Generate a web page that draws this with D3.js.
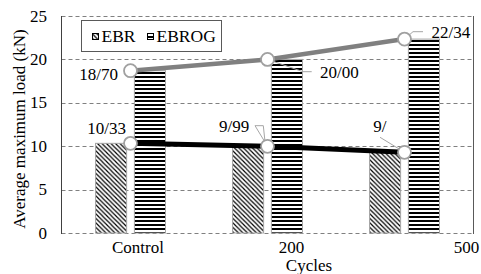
<!DOCTYPE html>
<html>
<head>
<meta charset="utf-8">
<script src="https://cdn.jsdelivr.net/npm/d3@7"></script>
</head>
<body style="margin:0">
<script>
const width = 481;
const height = 274;

// data
const categories = ["Control", "200", "500"];
const series = ["EBR", "EBROG"];
const ebrValues = [10.33, 9.99, 9.3];
const ebrogValues = [18.70, 20.00, 22.34];
const ebrLabels = ["10/33", "9/99", "9/"];
const ebrogLabels = ["18/70", "20/00", "22/34"];
const yTicks = [0, 5, 10, 15, 20, 25];

// layout
const plot = { left: 62, right: 473, top: 16, bottom: 233 };
const fontSize = "17px";
const labelShift = [7.5, 24, 62]; // excel puts category labels off centre
const grey = "#808080";

const svg = d3.select("body")
  .append("svg")
  .attr("width", width)
  .attr("height", height);

// every text goes through this so the serif face sticks
function addText(sel) {
  return sel.append("text")
    .attr("font-family", "Liberation Serif")
    .style("font-family", "Liberation Serif")
    .style("font-size", fontSize);
}

const defs = svg.append("defs");

// wide downward diagonal for EBR
const diag = defs.append("pattern")
  .attr("id", "diag")
  .attr("patternUnits", "userSpaceOnUse")
  .attr("width", 4.5)
  .attr("height", 4.5);
diag.append("rect").attr("width", 4.5).attr("height", 4.5).attr("fill", "white");
diag.append("path")
  .attr("d", "M-1,-1 L5.5,5.5 M-1,3.5 L1,5.5 M3.5,-1 L5.5,1")
  .attr("stroke", "black")
  .attr("stroke-width", 1.2);

// dark horizontal for EBROG
const horiz = defs.append("pattern")
  .attr("id", "horiz")
  .attr("patternUnits", "userSpaceOnUse")
  .attr("width", 4)
  .attr("height", 4);
horiz.append("rect").attr("width", 4).attr("height", 4).attr("fill", "white");
horiz.append("rect").attr("width", 4).attr("height", 2).attr("fill", "black");

const fills = { EBR: "url(#diag)", EBROG: "url(#horiz)" };

const x0 = d3.scaleBand()
  .domain(categories)
  .range([plot.left, plot.right]);

const x1 = d3.scaleBand()
  .domain(series)
  .range([33.5, x0.bandwidth() - 33.5])
  .paddingInner(0.2);

const y = d3.scaleLinear()
  .domain([0, 25])
  .range([plot.bottom, plot.top]);

// gridlines
svg.append("g")
  .selectAll("line")
  .data(yTicks)
  .enter()
  .append("line")
  .attr("x1", plot.left - 0.5)
  .attr("x2", plot.right)
  .attr("y1", (d) => Math.round(y(d)) + 0.5)
  .attr("y2", (d) => Math.round(y(d)) + 0.5)
  .attr("stroke", grey)
  .attr("stroke-width", 1)
  .attr("stroke-dasharray", "4,3");

// side borders
svg.append("line")
  .attr("x1", plot.left - 0.5).attr("x2", plot.left - 0.5)
  .attr("y1", plot.top).attr("y2", plot.bottom + 1)
  .attr("stroke", "#404040");
svg.append("line")
  .attr("x1", plot.right + 0.5).attr("x2", plot.right + 0.5)
  .attr("y1", plot.top).attr("y2", plot.bottom + 1)
  .attr("stroke", "#595959");

// tick labels
const tickG = svg.append("g");
yTicks.forEach((t) => {
  addText(tickG)
    .attr("x", 47)
    .attr("y", y(t))
    .attr("dy", "0.33em")
    .attr("text-anchor", "end")
    .text(t);
});

// bars
const rows = categories.map((c, i) => ({ cat: c, EBR: ebrValues[i], EBROG: ebrogValues[i] }));

const groups = svg.append("g")
  .selectAll("g")
  .data(rows)
  .enter()
  .append("g")
  .attr("transform", (d) => "translate(" + x0(d.cat) + ",0)");

groups.selectAll("rect")
  .data((d) => series.map((s) => ({ key: s, value: d[s] })))
  .enter()
  .append("rect")
  .attr("x", (d) => x1(d.key))
  .attr("y", (d) => y(d.value))
  .attr("width", x1.bandwidth())
  .attr("height", (d) => y(0) - y(d.value))
  .attr("fill", (d) => fills[d.key])
  .attr("stroke", "#a6a6a6")
  .attr("stroke-width", 1);

// category labels
const catG = svg.append("g");
categories.forEach((c, i) => {
  addText(catG)
    .attr("x", x0(c) + x0.bandwidth() / 2 + labelShift[i])
    .attr("y", 253)
    .attr("text-anchor", "middle")
    .text(c);
});

addText(svg)
  .attr("x", 309)
  .attr("y", 271)
  .attr("text-anchor", "middle")
  .text("Cycles");

addText(svg)
  .attr("transform", "translate(19,129) rotate(-90)")
  .attr("text-anchor", "middle")
  .attr("dy", "0.35em")
  .text("Average maximum load (kN)");

// lines with markers
const cx = (i) => x0(categories[i]) + x0.bandwidth() / 2;

const lineGen = d3.line()
  .x((d, i) => cx(i))
  .y((d) => y(d));

// label offsets from each marker, plus leader points
const ebrogNotes = [
  { dx: -12.5, dy: 9.5, anchor: "end", leader: [] },
  { dx: 52.5, dy: 18.6, anchor: "start", leader: [[35.5, 12.3], [44.2, 12.3]] },
  { dx: 27, dy: -0.8, anchor: "start", leader: [[8.5, -7.4], [18.5, -7.4]] },
];
const ebrNotes = [
  { dx: -4.5, dy: -9.3, anchor: "end", leader: [] },
  { dx: -18.2, dy: -14.6, anchor: "end", leader: [[-12.5, -20.6], [-4.2, -20.6], [-2.5, -4.6]] },
  { dx: -31.2, dy: -20.6, anchor: "start", leader: [[-24.5, -15]] },
];

function drawSeries(values, labels, notes, color, lw) {
  const g = svg.append("g");

  g.append("path")
    .datum(values)
    .attr("d", lineGen)
    .attr("fill", "none")
    .attr("stroke", color)
    .attr("stroke-width", lw);

  // leader lines
  notes.forEach((n, i) => {
    if (n.leader.length === 0) return;
    const px = cx(i);
    const py = y(values[i]);
    const pts = [[px, py]].concat(n.leader.map((p) => [px + p[0], py + p[1]]));
    g.append("path")
      .attr("d", d3.line()(pts))
      .attr("fill", "none")
      .attr("stroke", "#a6a6a6")
      .attr("stroke-width", 1);
  });

  g.selectAll("circle")
    .data(values)
    .enter()
    .append("circle")
    .attr("cx", (d, i) => cx(i))
    .attr("cy", (d) => y(d))
    .attr("r", 6.5)
    .attr("fill", "white")
    .attr("stroke", "#a0a0a0")
    .attr("stroke-width", 1.8);

  values.forEach((v, i) => {
    addText(g)
      .attr("x", cx(i) + notes[i].dx)
      .attr("y", y(v) + notes[i].dy)
      .attr("text-anchor", notes[i].anchor)
      .text(labels[i]);
  });
}

drawSeries(ebrogValues, ebrogLabels, ebrogNotes, grey, 4.5);
drawSeries(ebrValues, ebrLabels, ebrNotes, "black", 5);

// legend
const legend = svg.append("g");
legend.append("rect")
  .attr("x", 81.5)
  .attr("y", 20.5)
  .attr("width", 140)
  .attr("height", 31)
  .attr("fill", "white")
  .attr("stroke", "#595959")
  .attr("stroke-width", 1);

const legendX = [92, 147];
series.forEach((s, i) => {
  legend.append("rect")
    .attr("x", legendX[i] + 0.5)
    .attr("y", 33.5)
    .attr("width", 6)
    .attr("height", 6)
    .attr("fill", fills[s])
    .attr("stroke", "black")
    .attr("stroke-width", 1);
  addText(legend)
    .attr("x", legendX[i] + 9.5)
    .attr("y", 42)
    .style("font-size", "17.5px")
    .text(s);
});
</script>
</body>
</html>
